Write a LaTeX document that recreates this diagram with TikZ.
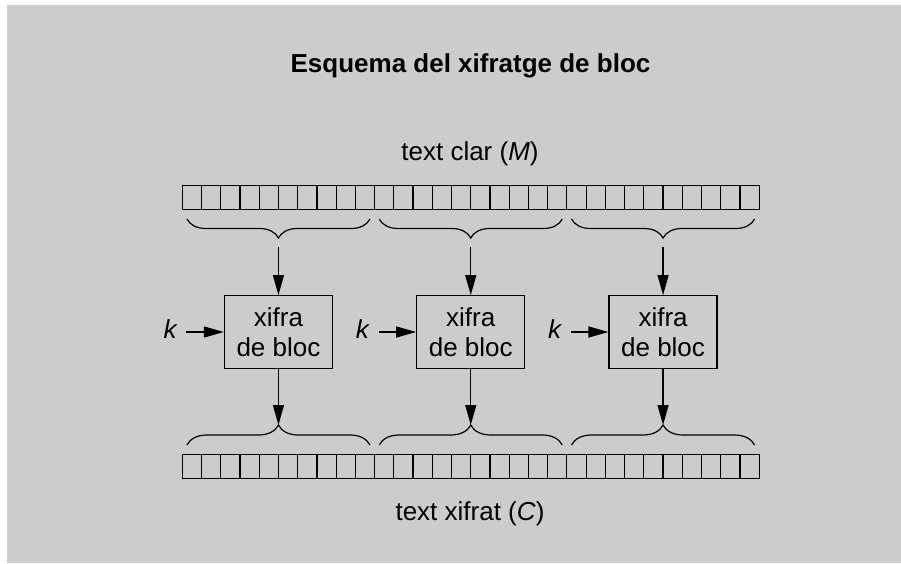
\documentclass[tikz,border=0pt]{standalone}
\usepackage{fontspec}
\setmainfont{Liberation Sans}
\usetikzlibrary{arrows.meta,decorations.pathreplacing}
\definecolor{bggray}{RGB}{204,204,204}
\tikzstyle{cell} = [rectangle, draw=black, line width=1.2pt, minimum width=19.23pt, minimum height=23.8pt, inner sep=0pt]
\tikzstyle{cipher} = [rectangle, draw=black, line width=1.2pt, minimum width=108pt, minimum height=72.6pt, text centered, align=center, inner sep=0pt]
\tikzstyle{keyin} = [inner xsep=8.5pt, inner ysep=0pt, text height=19pt, text depth=6.4pt]
\tikzstyle{arrow} = [line width=1.2pt, ->, >={Triangle[length=20pt,width=11pt]}]
\tikzstyle{topbrace} = [line width=1.2pt, decorate, decoration={brace, mirror, amplitude=19pt}]
\tikzstyle{botbrace} = [line width=1.2pt, decorate, decoration={brace, amplitude=20pt}]

\begin{document}
\begin{tikzpicture}[x=1pt, y=-1pt, font=\fontsize{26}{30.6}\selectfont]
\useasboundingbox (0,0) rectangle (901,563);
\fill [bggray] (7,5) rectangle (901,563);

\node (title) [anchor=base] at (470.5,72.7) {\bfseries Esquema del xifratge de bloc};
\node (clar) [anchor=base] at (470,160.7) {text clar (\textit{M})};
\node (xifrat) [anchor=base] at (470,520.7) {text xifrat (\textit{C})};

% rows of cells
\foreach \i in {0,...,29} {
  \node (clar\i) [cell] at ({191.9+19.23*\i},197.5) {};
  \node (xif\i) [cell] at ({191.9+19.23*\i},466.3) {};
}

% one cipher per block
\foreach \b/\x in {1/278.45, 2/470.75, 3/663.05} {
  \draw [topbrace] ({\x-91.5},219) -- ({\x+91.5},219);
  \draw [botbrace] ({\x-91.5},445) -- ({\x+91.5},445);
  \coordinate (in\b) at (\x,247);
  \coordinate (out\b) at (\x,425);
  \node (xifra\b) [cipher] at (\x,332) {xifra\\de bloc};
  \node (k\b) [keyin, left of=xifra\b, node distance=107.8pt] {\textit{k}};
  \draw [arrow] (in\b) -- (xifra\b);
  \draw [arrow] (xifra\b) -- (out\b);
  \draw [arrow] (k\b) -- (xifra\b);
}

\end{tikzpicture}
\end{document}
